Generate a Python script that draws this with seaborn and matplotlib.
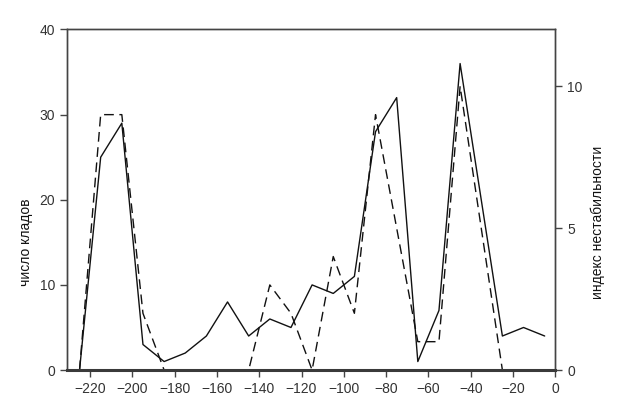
import matplotlib
matplotlib.use('Agg')
import matplotlib.pyplot as plt
import seaborn as sns
import pandas as pd

# years (BC as negative), step 10
years_clads = [-225, -215, -205, -195, -185, -175, -165, -155, -145, -135, -125, -115,
               -105, -95, -85, -75, -65, -55, -45, -35, -25, -15, -5]
clads = [0, 25, 29, 3, 1, 2, 4, 8, 4, 6, 5, 10, 9, 11, 28, 32, 1, 7, 36, 20, 4, 5, 4]

years_instab = [-225, -215, -205, -195, -185, -175, -165, -155, -145, -135, -125, -115,
                -105, -95, -85, -75, -65, -55, -45, -35, -25]
instability = [0, 9, 9, 2, 0, 0, 0, 0, 0, 3, 2, 0, 4, 2, 9, 5, 1, 1, 10, 5, 0]

x_ticks = [-220, -200, -180, -160, -140, -120, -100, -80, -60, -40, -20, 0]

df_c = pd.DataFrame({'year': years_clads, 'clads': clads})
df_i = pd.DataFrame({'year': years_instab, 'instab': instability})

sns.set_style('ticks')
plt.rcParams['font.family'] = ['Liberation Sans Narrow', 'Liberation Sans', 'DejaVu Sans']
edge = '#444444'
txt = '#333333'

fig = plt.figure(figsize=(6.19, 4.04), dpi=100)
ax = fig.add_axes([0.108, 0.084, 0.789, 0.843])
ax2 = ax.twinx()

sns.lineplot(data=df_c, x='year', y='clads', ax=ax, color='#111111', linewidth=1.0)
sns.lineplot(data=df_i, x='year', y='instab', ax=ax2, color='#111111', linewidth=1.0,
             linestyle=(0, (7, 4)))

ax.set_xlim(-231, 0)
ax.set_ylim(0, 40)
ax2.set_ylim(0, 12)
ax.set_xticks(x_ticks)
ax.set_yticks([0, 10, 20, 30, 40])
ax2.set_yticks([0, 5, 10])

ax.set_xlabel('')
ax.set_ylabel('число кладов', fontsize=10, color='#111111')
ax2.set_ylabel('индекс нестабильности', fontsize=10, color='#111111')
ax.yaxis.set_label_coords(-0.07, 0.375)
ax2.yaxis.set_label_coords(1.072, 0.435)

for a in (ax, ax2):
    for s in a.spines.values():
        s.set_visible(True)
        s.set_color(edge)
        s.set_linewidth(1.0)
        s.set_zorder(5)
    a.tick_params(direction='out', length=5, width=1.0, color=edge,
                  labelsize=10, labelcolor=txt)
    a.grid(False)
# the bottom spine hides the dashed line where it sits on zero
ax2.spines['bottom'].set_linewidth(2.2)
ax2.spines['bottom'].set_color('#3a3a3a')

plt.savefig('out.png', dpi=100)
